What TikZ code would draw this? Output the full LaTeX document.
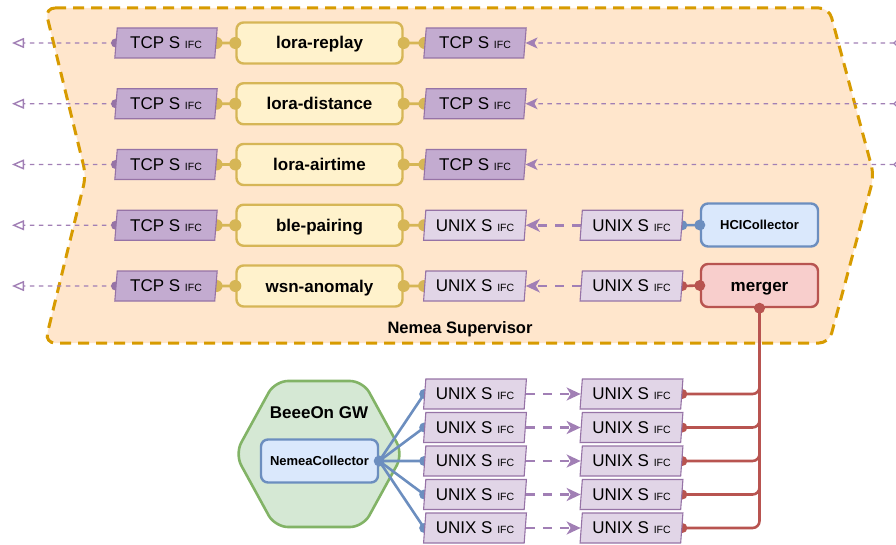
\documentclass[tikz,border=0pt]{standalone}
\usepackage{fontspec}
\setmainfont{Liberation Sans}
\usetikzlibrary{shapes.geometric,arrows.meta}
\definecolor{supF}{HTML}{FFE6CC}
\definecolor{supS}{HTML}{D79B00}
\definecolor{purS}{HTML}{9673A6}
\definecolor{arrP}{HTML}{A17FB5}
\definecolor{tcpF}{HTML}{C3ABD0}
\definecolor{unixF}{HTML}{E1D5E7}
\definecolor{yelF}{HTML}{FFF2CC}
\definecolor{yelS}{HTML}{D6B656}
\definecolor{bluF}{HTML}{DAE8FC}
\definecolor{bluS}{HTML}{6C8EBF}
\definecolor{redF}{HTML}{F8CECC}
\definecolor{redS}{HTML}{B85450}
\definecolor{grnF}{HTML}{D5E8D4}
\definecolor{grnS}{HTML}{82B366}
\pgfdeclarelayer{back}
\pgfdeclarelayer{conn}
\pgfsetlayers{back,conn,main}
\newcommand\ifclabel[1]{#1 {\fontsize{10.5}{12}\selectfont IFC}}
\tikzset{
  ifcbox/.style={trapezium, trapezium left angle=81.5, trapezium right angle=98.5,
    trapezium stretches=true, minimum width=103pt, minimum height=30pt,
    draw=purS, line width=1.1pt, inner sep=0pt, font=\fontsize{17}{20}\selectfont},
  tcpbox/.style={ifcbox, fill=tcpF},
  unixbox/.style={ifcbox, fill=unixF},
  modbox/.style={rectangle, rounded corners=7pt, draw=yelS, fill=yelF, line width=2.4pt,
    minimum width=166pt, minimum height=41pt, text height=12pt, text depth=0pt,
    font=\bfseries\fontsize{17}{20}\selectfont},
  bluebox/.style={rectangle, rounded corners=7pt, draw=bluS, fill=bluF, line width=2.4pt,
    minimum width=117pt, minimum height=43pt, font=\bfseries\fontsize{13}{15}\selectfont},
  redbox/.style={rectangle, rounded corners=7pt, draw=redS, fill=redF, line width=2.4pt,
    minimum width=117pt, minimum height=43pt, text height=12pt, text depth=0pt,
    font=\bfseries\fontsize{17}{20}\selectfont},
  thinarrow/.style={draw=arrP, line width=1.4pt, dash pattern=on 4.5pt off 4.5pt},
  thickarrow/.style={draw=arrP, line width=2.8pt, dash pattern=on 9pt off 8pt,
    -{Stealth[length=14pt,width=13pt,inset=4pt]}},
  yelline/.style={draw=yelS, line width=2.8pt},
  blueline/.style={draw=bluS, line width=2.6pt},
  redline/.style={draw=redS, line width=2.6pt},
  lbl/.style={text height=12pt, text depth=0pt, font=\bfseries\fontsize{16.5}{19}\selectfont},
}
\begin{document}
\begin{tikzpicture}[x=1pt,y=-1pt]
\useasboundingbox (0,0) rectangle (896,545);
% supervisor
\begin{pgfonlayer}{back}
\draw[fill=supF, draw=supS, line width=3pt, dash pattern=on 11pt off 7pt, rounded corners=10pt]
  (45,8) -- (829,8) -- (874,175.5) -- (829,343) -- (45,343) -- (86,175.5) -- cycle;
\draw[fill=grnF, draw=grnS, line width=2.6pt, rounded corners=13pt]
  (235,454) -- (275,381) -- (363,381) -- (403,454) -- (363,527) -- (275,527) -- cycle;
\end{pgfonlayer}
\node[lbl] (suplbl) at (460,327) {Nemea Supervisor};
\node[font=\bfseries\fontsize{17}{20}\selectfont] (gwlbl) at (319,413) {BeeeOn GW};
% rows
\foreach \n [count=\i] in {lora-replay,lora-distance,lora-airtime,ble-pairing,wsn-anomaly} {
  \pgfmathsetmacro\yy{43+60.75*(\i-1)}
  \node[tcpbox] (tl\i) at (166,\yy) {\ifclabel{TCP S}};
  \node[modbox] (m\i) at (319.5,\yy) {\n};
  \coordinate (lend\i) at (12,\yy);
}
\foreach \i in {1,2,3} {
  \pgfmathsetmacro\yy{43+60.75*(\i-1)}
  \node[tcpbox] (tr\i) at (475,\yy) {\ifclabel{TCP S}};
  \coordinate (rst\i) at (902,\yy);
}
\foreach \i in {4,5} {
  \pgfmathsetmacro\yy{43+60.75*(\i-1)}
  \node[unixbox] (tr\i) at (475,\yy) {\ifclabel{UNIX S}};
  \node[unixbox] (ur\i) at (631.5,\yy) {\ifclabel{UNIX S}};
}
\node[bluebox] (hci) at (759.5,225) {HCICollector};
\node[redbox] (mrg) at (759.5,285.5) {merger};
% bottom
\node[bluebox] (nc) at (319.5,461) {NemeaCollector};
\foreach \j in {1,...,5} {
  \pgfmathsetmacro\yy{394+33.5*(\j-1)}
  \node[unixbox] (bl\j) at (475,\yy) {\ifclabel{UNIX S}};
  \node[unixbox] (br\j) at (631.5,\yy) {\ifclabel{UNIX S}};
}
% connectors
\begin{pgfonlayer}{conn}
\foreach \i in {1,...,5} {
  \draw[thinarrow, -{Triangle[open,length=12pt,width=10pt,line width=1.4pt]}] (tl\i.west) -- (lend\i);
  \fill[purS] (tl\i.west) circle (4.5);
  \draw[yelline] (tl\i.east) -- (m\i.west);
  \fill[yelS] (tl\i.east) circle (6);
  \draw[yelline] (m\i.east) -- (tr\i.west);
  \fill[yelS] (tr\i.west) circle (6);
}
\foreach \i in {1,2,3} {
  \draw[thinarrow, {Diamond[open,length=9pt,width=9pt,sep=0pt]}-{Stealth[length=12pt,width=11pt,inset=3pt]}] (rst\i) -- (tr\i.east);
}
\foreach \i in {4,5} {
  \draw[thickarrow] (ur\i.west) -- (tr\i.east);
}
\draw[blueline] (ur4.east) -- (hci.west);
\fill[bluS] (ur4.east) circle (5);
\draw[redline] (ur5.east) -- (mrg.west);
\fill[redS] (ur5.east) circle (5);
\foreach \j in {1,...,5} {
  \draw[thickarrow] (bl\j.east) -- (br\j.west);
  \draw[redline, rounded corners=7pt] (mrg.south) |- (br\j.east);
  \fill[redS] (br\j.east) circle (5);
  \draw[blueline] (nc.east) -- (bl\j.west);
  \fill[bluS] (bl\j.west) circle (5);
}
\end{pgfonlayer}
% dots on top
\foreach \i in {1,...,5} {
  \fill[yelS] (m\i.west) circle (6);
  \fill[yelS] (m\i.east) circle (6);
}
\fill[bluS] (hci.west) circle (5.5);
\fill[redS] (mrg.west) circle (5.5);
\fill[redS] (mrg.south) circle (5.5);
\fill[bluS] (nc.east) circle (5.5);
\end{tikzpicture}
\end{document}
